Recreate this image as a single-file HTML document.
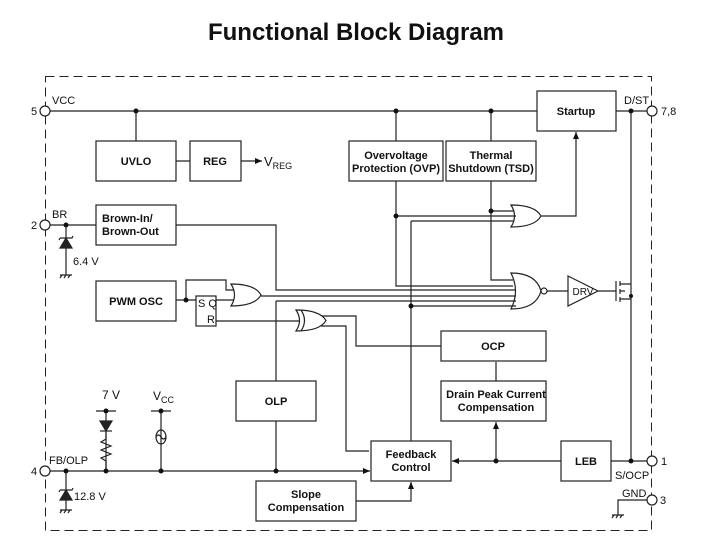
<!DOCTYPE html>
<html><head><style>
body{margin:0;background:#fff}
svg{display:block}
text{font-family:"Liberation Sans",Arial,sans-serif;fill:#111}
.b{font-weight:bold;font-size:11px;text-anchor:middle}
.l{font-size:11px}
</style></head><body>
<svg width="702" height="555" viewBox="0 0 702 555">
<defs><marker id="a" markerWidth="8" markerHeight="8" refX="7" refY="4" orient="auto" markerUnits="userSpaceOnUse"><path d="M0,1 L7,4 L0,7z" fill="#111"/></marker></defs>
<text x="356" y="40" font-size="24" font-weight="bold" text-anchor="middle">Functional Block Diagram</text>
<rect x="45.5" y="76.5" width="606" height="454" fill="none" stroke="#222" stroke-dasharray="9,5"/>
<g fill="none" stroke="#222" stroke-width="1.2">
<path d="M50 111H537M136 111V141M396 111V141M491 111V141M616 111H647M631 111V461"/>
<rect x="96" y="141" width="80" height="40" fill="#fff"/><rect x="190" y="141" width="51" height="40" fill="#fff"/>
<path d="M176 161H190M241 161H262" marker-end="url(#a)"/>
<rect x="349" y="141" width="94" height="40" fill="#fff"/><rect x="446" y="141" width="90" height="40" fill="#fff"/>
<rect x="537" y="91" width="79" height="40" fill="#fff"/>
<path d="M396 181V286H513M491 181V280H513M491 211H514M396 216H516M411 221H514M411 221V441"/>
<path d="M511 205Q535 205 541 216Q535 227 511 227Q518 216 511 205z"/>
<path d="M541 216H576V132" marker-end="url(#a)"/>
<path d="M511 273Q536 273 541 291Q536 309 511 309Q520 291 511 273z" fill="#fff"/>
<circle cx="544" cy="291" r="3"/>
<path d="M547 291H568M598 291H616M616 281V301M620 281V286M620 289V294M620 297V302M620 284H631M620 299H631M620 291H625"/>
<path d="M568 276L598 291L568 306z"/>
<path d="M50 225H96M176 225H276V290H516M276 301H516M276 301V381M411 306H516M261 296H516"/>
<rect x="96" y="205" width="80" height="40" fill="#fff"/>
<path d="M66 225V270M60 275H72M62 275l-2 3M66 275l-2 3M70 275l-2 3M66 270V275"/>
<path d="M60 248L66 238L72 248z" fill="#222"/><path d="M60 238H72l1-2M60 238l-1 2"/>
<rect x="96" y="281" width="80" height="40" fill="#fff"/>
<path d="M176 300H196M186 300V280H226V290H235M216 300H235"/>
<rect x="196" y="296" width="20" height="30" fill="#fff"/>
<path d="M231 284Q255 284 261 295Q255 306 231 306Q238 295 231 284z" fill="#fff"/>
<path d="M216 321H299M321 316H356V346H441M321 326H346V451H369"/>
<path d="M296 310Q320 310 326 320.5Q320 331 296 331Q303 320.5 296 310z" fill="#fff"/>
<path d="M301 310Q308 320.5 301 331" />
<rect x="441" y="331" width="105" height="30" fill="#fff"/>
<rect x="441" y="381" width="105" height="40" fill="#fff"/>
<path d="M496 381V362M496 461V422" marker-end="url(#a)"/>
<rect x="371" y="441" width="80" height="40" fill="#fff"/>
<rect x="561" y="441" width="50" height="40" fill="#fff"/>
<path d="M647 461H611M561 461H452" marker-end="url(#a)"/>
<rect x="236" y="381" width="80" height="40" fill="#fff"/>
<path d="M276 421V471"/>
<path d="M50 471H370" marker-end="url(#a)"/>
<rect x="256" y="481" width="100" height="40" fill="#fff"/>
<path d="M356 501H411V482" marker-end="url(#a)"/>
<path d="M96 411H116M106 411V471M151 411H171M161 411V471"/>
<path d="M100 421H112L106 431z" fill="#222"/><path d="M100 431H112"/>
<path d="M106 431V439L101 442L111 446L101 450L111 454L101 458L106 461V471"/>
<ellipse cx="161" cy="437" rx="5" ry="7"/><path d="M156 437Q158.5 433 161 437Q163.5 441 166 437"/>
<path d="M66 471V510M60 510H72M62 510l-2 3M66 510l-2 3M70 510l-2 3"/>
<path d="M60 500L66 490L72 500z" fill="#222"/><path d="M60 490H72l1-2M60 490l-1 2"/>
<path d="M647 500H618V515M612 515H624M614 515l-2 3M618 515l-2 3M622 515l-2 3"/>
</g>
<g fill="#111">
<circle cx="136" cy="111" r="2.5"/><circle cx="396" cy="111" r="2.5"/><circle cx="491" cy="111" r="2.5"/><circle cx="631" cy="111" r="2.5"/>
<circle cx="396" cy="216" r="2.5"/><circle cx="491" cy="211" r="2.5"/><circle cx="411" cy="306" r="2.5"/>
<circle cx="66" cy="225" r="2.5"/><circle cx="186" cy="300" r="2.5"/>
<circle cx="66" cy="471" r="2.5"/><circle cx="106" cy="471" r="2.5"/><circle cx="161" cy="471" r="2.5"/><circle cx="276" cy="471" r="2.5"/>
<circle cx="106" cy="411" r="2.5"/><circle cx="161" cy="411" r="2.5"/>
<circle cx="496" cy="461" r="2.5"/><circle cx="631" cy="461" r="2.5"/><circle cx="631" cy="296" r="2"/>
</g>
<g fill="#fff" stroke="#222" stroke-width="1.2">
<circle cx="45" cy="111" r="5"/><circle cx="45" cy="225" r="5"/><circle cx="45" cy="471" r="5"/>
<circle cx="652" cy="111" r="5"/><circle cx="652" cy="461" r="5"/><circle cx="652" cy="500" r="5"/>
</g>
<text class="b" x="136" y="165">UVLO</text><text class="b" x="215" y="165">REG</text>
<text x="264" y="166" font-size="13">V<tspan font-size="9" dy="3">REG</tspan></text>
<text class="b" x="396" y="159">Overvoltage</text><text class="b" x="396" y="172">Protection (OVP)</text>
<text class="b" x="491" y="159">Thermal</text><text class="b" x="491" y="172">Shutdown (TSD)</text>
<text class="b" x="576" y="115">Startup</text>
<text class="b" x="102" y="222" style="text-anchor:start">Brown-In/</text><text class="b" x="102" y="235" style="text-anchor:start">Brown-Out</text>
<text class="b" x="136" y="305">PWM OSC</text>
<text class="l" x="198" y="307" font-size="10">S Q</text><text class="l" x="207" y="323" font-size="10">R</text>
<text x="583" y="295" font-size="10" text-anchor="middle">DRV</text>
<text class="b" x="493" y="350">OCP</text>
<text class="b" x="496" y="398" font-size="10.5">Drain Peak Current</text><text class="b" x="496" y="411" font-size="10.5">Compensation</text>
<text class="b" x="411" y="458">Feedback</text><text class="b" x="411" y="471">Control</text>
<text class="b" x="586" y="465">LEB</text><text class="b" x="276" y="405">OLP</text>
<text class="b" x="306" y="498">Slope</text><text class="b" x="306" y="511">Compensation</text>
<text class="l" x="31" y="115">5</text><text class="l" x="52" y="104">VCC</text>
<text class="l" x="31" y="229">2</text><text class="l" x="52" y="218">BR</text>
<text class="l" x="73" y="265">6.4 V</text>
<text class="l" x="31" y="475">4</text><text class="l" x="49" y="464">FB/OLP</text>
<text class="l" x="74" y="500">12.8 V</text>
<text x="102" y="399" font-size="12">7 V</text>
<text x="153" y="400" font-size="12">V<tspan font-size="9" dy="3">CC</tspan></text>
<text class="l" x="624" y="104" font-size="10">D/ST</text><text class="l" x="661" y="115">7,8</text>
<text class="l" x="615" y="479" font-size="10">S/OCP</text><text class="l" x="661" y="465">1</text>
<text class="l" x="622" y="497" font-size="10">GND</text><text class="l" x="660" y="504">3</text>
</svg>
</body></html>
